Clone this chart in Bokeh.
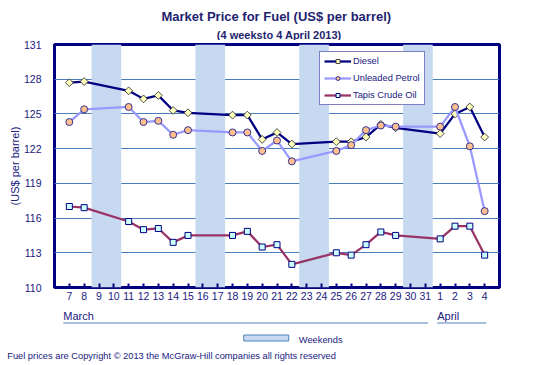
import numpy as np
from bokeh.plotting import figure
from bokeh.layouts import column
from bokeh.models import FixedTicker, Legend, LegendItem, Range1d, Title
from bokeh.core.properties import value
from bokeh.embed import file_html
from bokeh.resources import INLINE

# ---------------- data ----------------
days = [7, 8, 11, 12, 13, 14, 15, 18, 19, 20, 21, 22, 25, 26, 27, 28, 29, 1, 2, 3, 4]
months = ["March"] * 17 + ["April"] * 4
diesel = [127.7, 127.8, 127.0, 126.3, 126.6, 125.3, 125.1, 124.9, 124.9, 122.8, 123.4,
          122.4, 122.6, 122.6, 123.0, 124.1, 123.8, 123.3, 125.0, 125.6, 123.0]
unleaded = [124.3, 125.4, 125.6, 124.3, 124.4, 123.2, 123.6, 123.4, 123.4, 121.8, 122.7,
            120.9, 121.8, 122.3, 123.6, 124.0, 123.9, 123.9, 125.6, 122.2, 116.6]
tapis = [117.0, 116.9, 115.7, 115.0, 115.1, 113.9, 114.5, 114.5, 114.85, 113.5, 113.7,
         112.0, 113.0, 112.8, 113.7, 114.8, 114.5, 114.2, 115.3, 115.3, 112.8]
weekend_starts = [9, 16, 23, 30]          # Saturdays in March
tick_days = list(range(7, 32)) + [1, 2, 3, 4]
tick_months = ["March"] * 25 + ["April"] * 4
y_ticks = [110, 113, 116, 119, 122, 125, 128, 131]
series_names = ["Diesel", "Unleaded Petrol", "Tapis Crude Oil"]
month_names = ["March", "April"]
title_text = "Market Price for Fuel (US$ per barrel)"
subtitle_text = "(4 weeksto 4 April 2013)"
band_label = "Weekends"
footer_text = "Fuel prices are Copyright \u00a9 2013  the McGraw-Hill  companies all rights reserved"


def to_x(day, month):
    return day + (31 if month == "April" else 0)


xs = [to_x(d, m) for d, m in zip(days, months)]
tick_xs = [to_x(d, m) for d, m in zip(tick_days, tick_months)]

FONT = "Liberation Sans"
TXT = "#20207F"
TTL = "#1F1F70"

# ---------------- layout constants (pixels) ----------------
W = 551
B_LEFT, B_RIGHT = 54, 52
TOP_H = 40
B_TOP, FRAME_H, B_BOTTOM = 4, 243, 20
MAIN_H = B_TOP + FRAME_H + B_BOTTOM
BOT_H, BOT_FOOT = 58, 20
X0, X1 = 6, 36


def strip(height, y_top, y_bottom, foot=0):
    f = figure(width=W, height=height, output_backend="svg", toolbar_location=None,
               x_range=Range1d(X0, X1), y_range=Range1d(y_bottom, y_top),
               x_axis_type=None, y_axis_type=None,
               min_border_left=B_LEFT, min_border_right=B_RIGHT,
               min_border_top=0, min_border_bottom=foot)
    f.outline_line_color = None
    f.grid.visible = False
    f.background_fill_color = "white"
    f.border_fill_color = "white"
    return f


# ---------------- top strip: titles (x in day units, y in page pixels) ----------------
pt = strip(TOP_H, 0, TOP_H)
pt.text(x=[20.95], y=[15.9], text=[title_text], text_font=value(FONT),
        text_font_size=value("13px"), text_font_style="bold", text_color=TTL,
        text_align="center", text_baseline="middle")
pt.text(x=[21.15], y=[34.0], text=[subtitle_text], text_font=value(FONT),
        text_font_size=value("11px"), text_font_style="bold", text_color=TTL,
        text_align="center", text_baseline="middle")

# ---------------- main chart ----------------
p = figure(width=W, height=MAIN_H, output_backend="svg", toolbar_location=None,
           x_range=Range1d(X0, X1), y_range=Range1d(110, 131),
           min_border_left=B_LEFT, min_border_right=B_RIGHT,
           min_border_top=B_TOP, min_border_bottom=B_BOTTOM)
p.background_fill_color = "white"
p.border_fill_color = "white"
p.outline_line_color = "#000080"
p.outline_line_width = 3

p.xgrid.grid_line_color = None
p.ygrid.ticker = FixedTicker(ticks=y_ticks)
p.ygrid.grid_line_color = "#4A7EBB"
p.ygrid.grid_line_width = 1

xa = p.xaxis[0]
xa.ticker = FixedTicker(ticks=tick_xs)
xa.major_label_overrides = {x: str(d) for x, d in zip(tick_xs, tick_days)}
xa.axis_line_color = None
xa.major_tick_in = 4
xa.major_tick_out = 0
xa.major_tick_line_color = "#000080"
xa.major_tick_line_width = 2
xa.minor_tick_line_color = None
xa.major_label_standoff = 4
xa.major_label_text_font = FONT
xa.major_label_text_font_size = "10.5px"
xa.major_label_text_color = TXT

ya = p.yaxis[0]
ya.ticker = FixedTicker(ticks=y_ticks)
ya.axis_line_color = None
ya.major_tick_line_color = None
ya.minor_tick_line_color = None
ya.major_label_standoff = 7
ya.major_label_text_font = FONT
ya.major_label_text_font_size = "10.5px"
ya.major_label_text_color = TXT
ya.axis_label = "(US$ per barrel)"
ya.axis_label_text_font = FONT
ya.axis_label_text_font_size = "11px"
ya.axis_label_text_font_style = "normal"
ya.axis_label_text_color = TXT
ya.axis_label_standoff = 0

# weekend bands
r_band = p.quad(left=[s - 0.5 for s in weekend_starts], right=[s + 1.5 for s in weekend_starts],
                bottom=110, top=131, fill_color="#C6D9F1", line_color=None)

# series
r_dl = p.line(xs, diesel, line_color="#000080", line_width=2.25)
r_dm = p.scatter(xs, diesel, marker="square", angle=np.pi / 4, size=5.5,
                 fill_color="#FFFFC0", line_color="#202020", line_width=0.8)
r_ul = p.line(xs, unleaded, line_color="#9999FF", line_width=2.25)
r_um = p.scatter(xs, unleaded, marker="circle", size=7,
                 fill_color="#FFC090", line_color="#1F1F8F", line_width=0.9)
r_tl = p.line(xs, tapis, line_color="#993366", line_width=2.25)
r_tm = p.scatter(xs, tapis, marker="square", size=6,
                 fill_color="#CCFFFF", line_color="#000080", line_width=1)

legend = Legend(items=[LegendItem(label=series_names[0], renderers=[r_dl, r_dm]),
                       LegendItem(label=series_names[1], renderers=[r_ul, r_um]),
                       LegendItem(label=series_names[2], renderers=[r_tl, r_tm])],
                location=(265, 182), margin=0, padding=4, spacing=7,
                glyph_width=27, glyph_height=10, label_height=10, label_standoff=2,
                label_text_font=FONT, label_text_font_size="9.3px", label_text_color=TXT,
                border_line_color="#000080", border_line_width=1,
                background_fill_color="white", background_fill_alpha=1)
p.add_layout(legend)

# ---------------- bottom strip: month axis, band legend, footer ----------------
y_top_b = TOP_H + MAIN_H
pb = strip(BOT_H, y_top_b, y_top_b + BOT_H - BOT_FOOT, foot=BOT_FOOT)

month_start = [6.59, 31.80]
month_end = [31.19, 35.11]
pb.text(x=month_start, y=[315.7, 315.7], text=month_names, text_font=value(FONT),
        text_font_size=value("11px"), text_color=TXT, text_align="left", text_baseline="middle")
pb.segment(x0=month_start, y0=[322.5, 322.5], x1=month_end, y1=[322.5, 322.5],
           line_color="#4F81BD", line_width=1)

pb.quad(left=[18.76], right=[21.79], top=[334.5], bottom=[340.5],
        fill_color="#C6D9F1", line_color="#4F81BD", line_width=1)
pb.text(x=[22.47], y=[339.5], text=[band_label], text_font=value(FONT),
        text_font_size=value("9.3px"), text_color=TXT, text_align="left", text_baseline="middle")

pb.add_layout(Title(text=footer_text, align="left", offset=-47.3, standoff=8,
                    vertical_align="middle",
                    text_font=FONT, text_font_size="9.3px", text_font_style="normal",
                    text_color=TXT), "below")

layout = column(pt, p, pb, spacing=0)
open("out.html", "w").write(file_html(layout, INLINE))
